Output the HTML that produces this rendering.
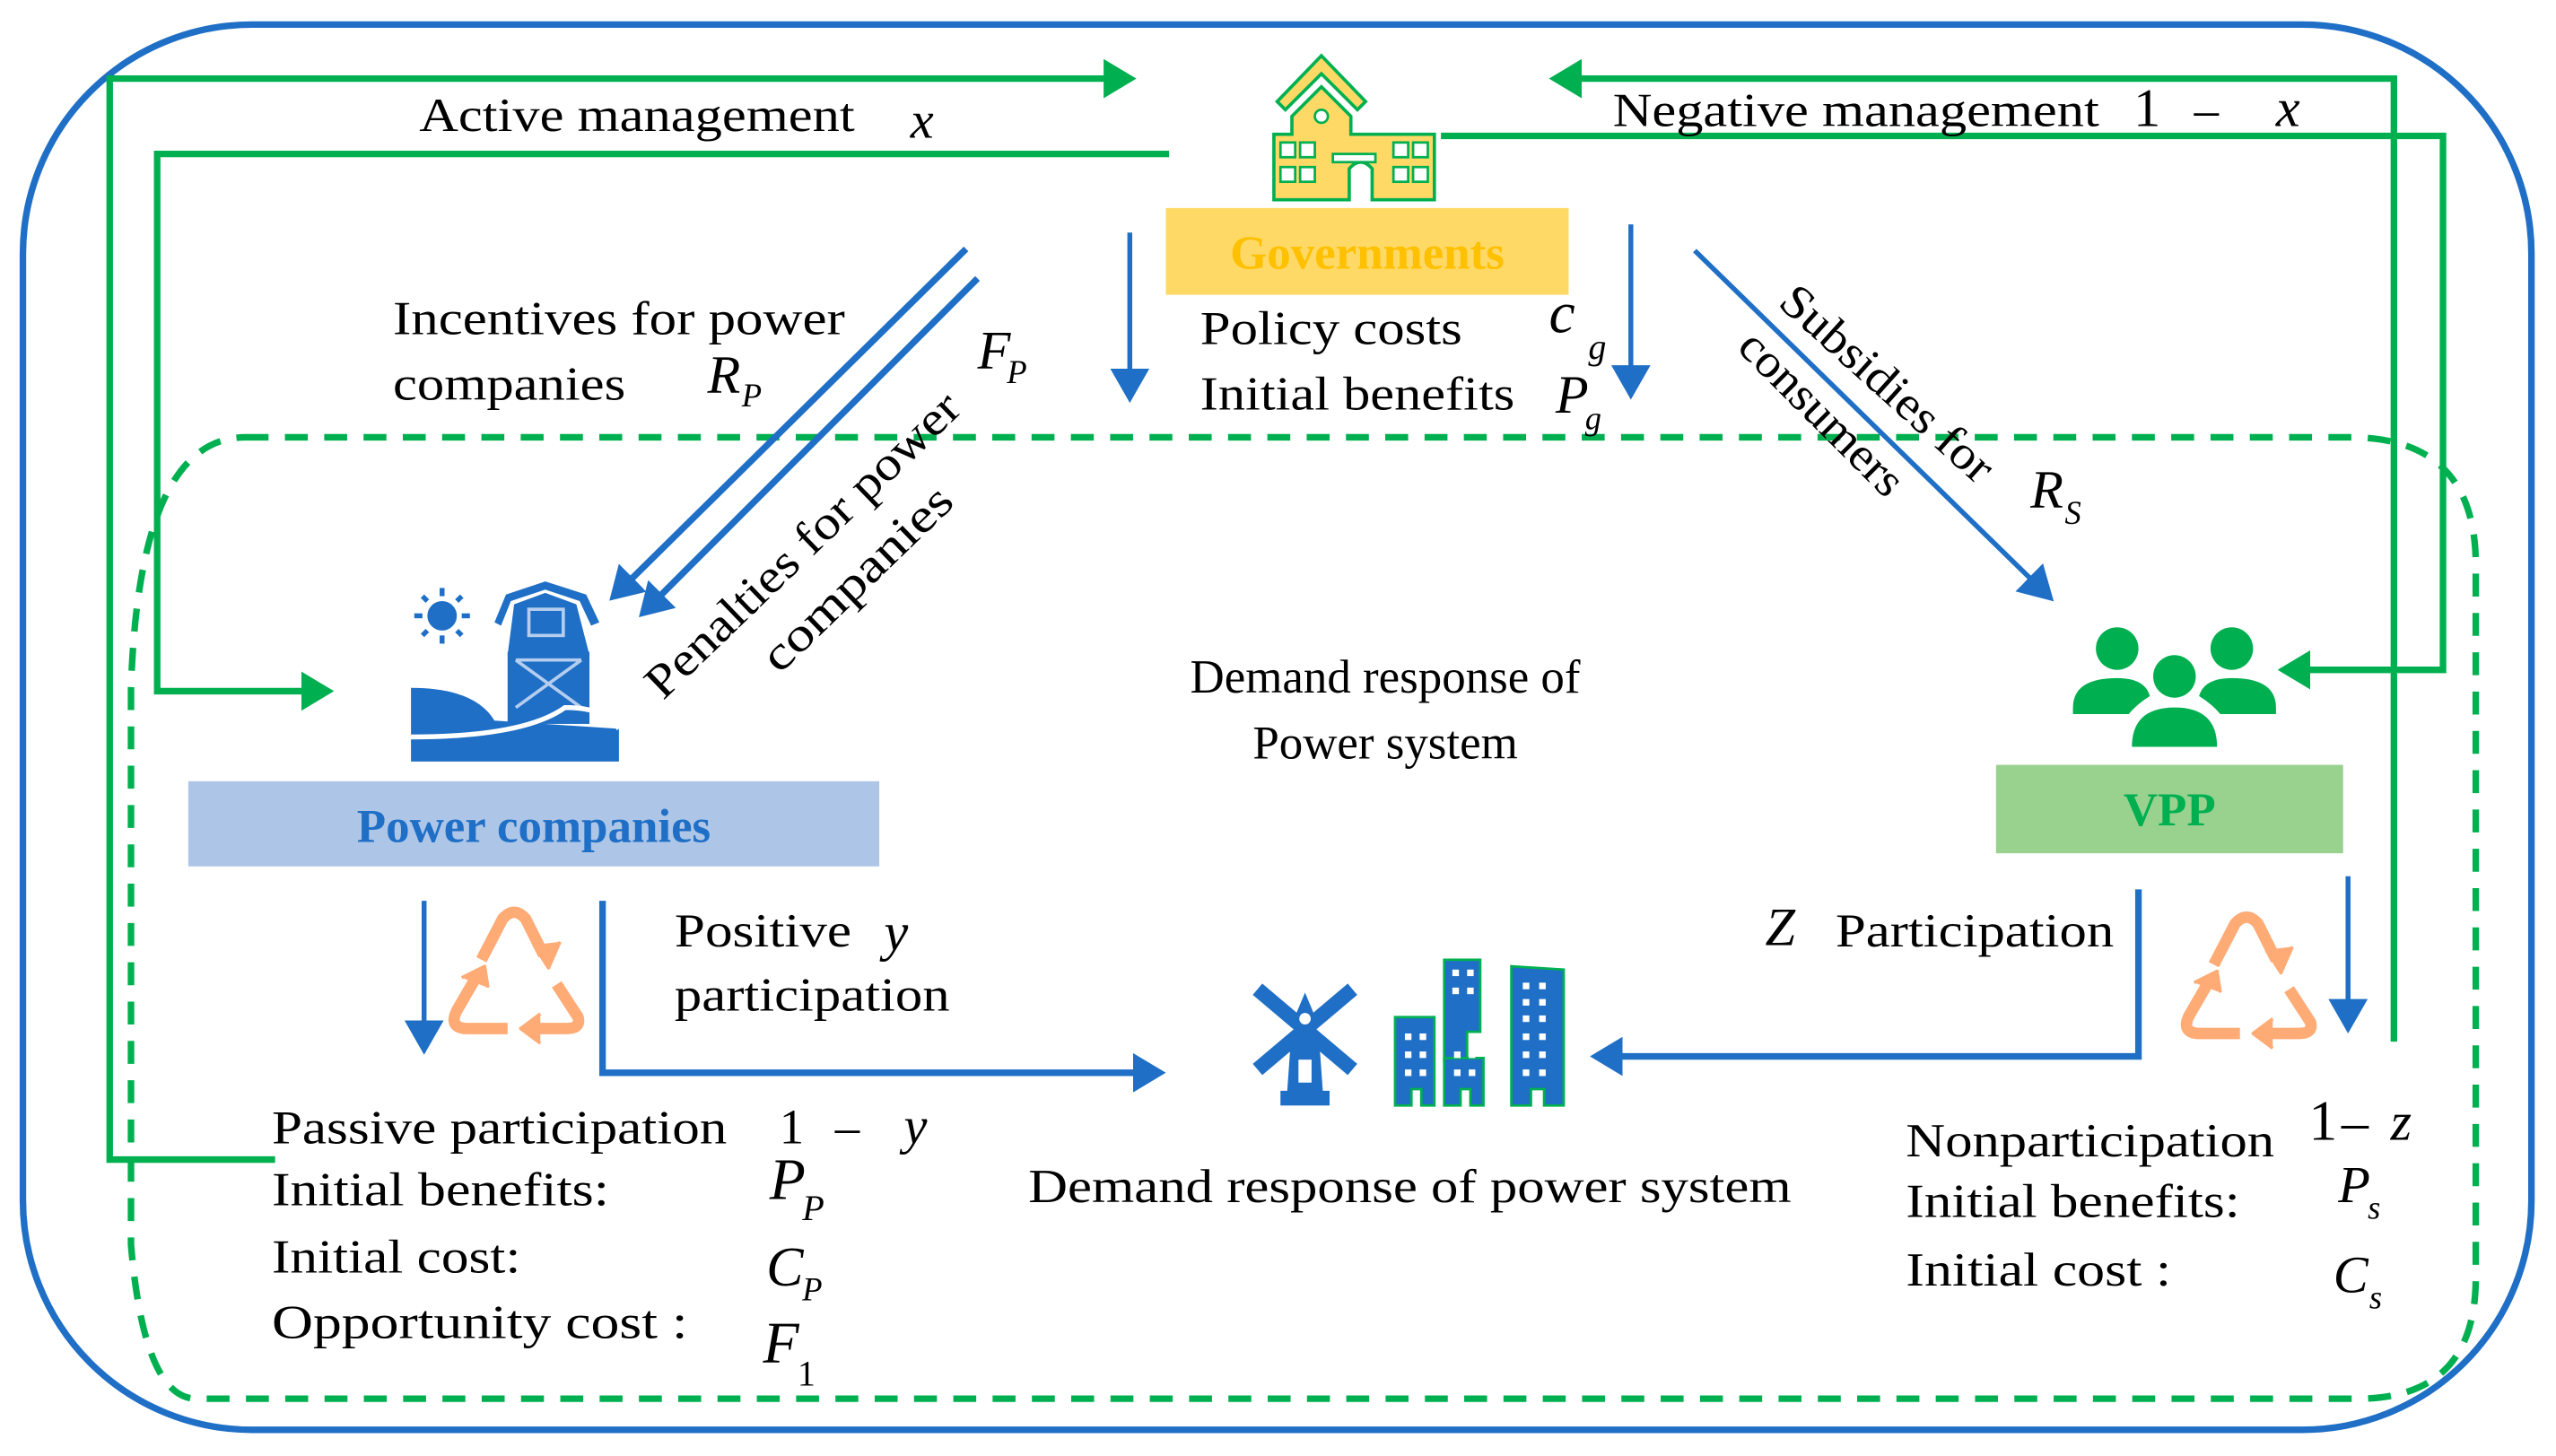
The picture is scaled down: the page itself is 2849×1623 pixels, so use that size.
<!DOCTYPE html>
<html><head><meta charset="utf-8"><style>
html,body{margin:0;padding:0;background:#fff;}
svg{display:block;}
text{font-family:"Liberation Serif",serif;fill:#000;}
.i{font-style:italic;}
</style></head><body>
<svg width="2849" height="1623" viewBox="0 0 1561 889" preserveAspectRatio="none" xmlns="http://www.w3.org/2000/svg">
<defs>
<marker id="ag" markerWidth="6" markerHeight="6" refX="4" refY="3" orient="auto" markerUnits="strokeWidth"><path d="M0,0 L5,3 L0,6 Z" fill="#00b050"/></marker>
<marker id="ab" markerWidth="6" markerHeight="6" refX="4" refY="3" orient="auto" markerUnits="strokeWidth"><path d="M0,0 L5,3 L0,6 Z" fill="#1f6fc6"/></marker>
<marker id="ab2" markerWidth="8" markerHeight="8" refX="5" refY="4" orient="auto" markerUnits="strokeWidth"><path d="M0,0 L7,4 L0,8 Z" fill="#1f6fc6"/></marker>
</defs>
<!-- outer blue frame -->
<rect x="14" y="15" width="1532" height="858" rx="140" ry="140" fill="none" stroke="#1f6fc6" stroke-width="4"/>
<!-- green dashed inner frame -->
<path d="M150,267 L1435,267 Q1512,267 1512,345 L1512,780 Q1512,854 1440,854 L120,854 Q88,854 80,760 L80,420 Q85,267 150,267 Z" fill="none" stroke="#00b050" stroke-width="4" stroke-dasharray="14,10"/>

<!-- green management lines -->
<polyline points="168,708 67,708 67,48 690,48" fill="none" stroke="#00b050" stroke-width="4" marker-end="url(#ag)"/>
<polyline points="714,94 96,94 96,422 200,422" fill="none" stroke="#00b050" stroke-width="4" marker-end="url(#ag)"/>
<polyline points="880,83 1492,83 1492,409 1395,409" fill="none" stroke="#00b050" stroke-width="4" marker-end="url(#ag)"/>
<polyline points="1462,636 1462,48 950,48" fill="none" stroke="#00b050" stroke-width="4" marker-end="url(#ag)"/>

<!-- blue arrows -->
<line x1="690" y1="142" x2="690" y2="240" stroke="#1f6fc6" stroke-width="3" marker-end="url(#ab2)"/>
<line x1="996" y1="137" x2="996" y2="238" stroke="#1f6fc6" stroke-width="3" marker-end="url(#ab2)"/>
<line x1="590" y1="152" x2="375" y2="364" stroke="#1f6fc6" stroke-width="4" marker-end="url(#ab)"/>
<line x1="597" y1="170" x2="393" y2="374" stroke="#1f6fc6" stroke-width="4" marker-end="url(#ab)"/>
<line x1="1035" y1="153" x2="1250" y2="363" stroke="#1f6fc6" stroke-width="3" marker-end="url(#ab2)"/>
<line x1="259" y1="550" x2="259" y2="638" stroke="#1f6fc6" stroke-width="3" marker-end="url(#ab2)"/>
<polyline points="368,550 368,655 708,655" fill="none" stroke="#1f6fc6" stroke-width="4" marker-end="url(#ab)"/>
<polyline points="1306,543 1306,645 975,645" fill="none" stroke="#1f6fc6" stroke-width="4" marker-end="url(#ab)"/>
<line x1="1434" y1="535" x2="1434" y2="625" stroke="#1f6fc6" stroke-width="3" marker-end="url(#ab2)"/>

<!-- government building -->
<g stroke="#00b050" stroke-width="2" fill="#ffd966">
<path d="M780,62 L807,34 L834,62 L829,67 L807,45 L785,67 Z"/>
<path d="M789,71 L807,53 L825,71 L825,82 L876,82 L876,122 L838,122 L838,103 Q831,95 824,103 L824,122 L778,122 L778,82 L789,82 Z" transform="translate(20,0) translate(-20,0)"/>
</g>
<g transform="translate(0,0)">
<circle cx="807" cy="71" r="4" fill="#fff" stroke="#00b050" stroke-width="1.5"/>
<g fill="#fff" stroke="#00b050" stroke-width="1.5">
<rect x="782" y="87" width="9" height="9"/><rect x="794" y="87" width="9" height="9"/>
<rect x="851" y="87" width="9" height="9"/><rect x="863" y="87" width="9" height="9"/>
<rect x="782" y="102" width="9" height="9"/><rect x="794" y="102" width="9" height="9"/>
<rect x="851" y="102" width="9" height="9"/><rect x="863" y="102" width="9" height="9"/>
<rect x="814" y="94" width="26" height="5"/>
</g>
</g>
<rect x="712" y="127" width="246" height="53" fill="#ffd966"/>
<text x="835" y="164" text-anchor="middle" font-size="29" font-weight="bold" fill="#ffc000" style="fill:#ffc000">Governments</text>

<!-- farm icon -->
<g fill="#1f6fc6">
<circle cx="270" cy="376" r="9"/>
<g stroke="#1f6fc6" stroke-width="3">
<line x1="270" y1="359" x2="270" y2="364"/><line x1="270" y1="388" x2="270" y2="393"/>
<line x1="253" y1="376" x2="258" y2="376"/><line x1="282" y1="376" x2="287" y2="376"/>
<line x1="258" y1="364" x2="261" y2="367"/><line x1="279" y1="385" x2="282" y2="388"/>
<line x1="282" y1="364" x2="279" y2="367"/><line x1="261" y1="385" x2="258" y2="388"/>
</g>
<path d="M302,380 L309,363 L333,355 L358,363 L366,380 L361,382 L354,367 L333,360 L312,367 L306,382 Z"/>
<path d="M314,369 L333,362 L352,369 L360,400 L310,400 Z"/>
<rect x="310" y="398" width="50" height="44"/>
<path d="M251,420 Q290,420 302,440 L378,445 L378,465 L251,465 Z"/>
</g>
<rect x="323" y="372" width="21" height="16" fill="none" stroke="#b5cdee" stroke-width="2"/>
<path d="M315,403 L355,403 M315,403 L355,432 M355,403 L315,432" stroke="#b5cdee" stroke-width="2"/>
<path d="M250,450 Q320,450 345,432 Q370,432 378,445" fill="none" stroke="#fff" stroke-width="3"/>

<rect x="115" y="477" width="422" height="52" fill="#adc6e8"/>
<text x="326" y="514" text-anchor="middle" font-size="29" font-weight="bold" style="fill:#1f6fc6">Power companies</text>

<!-- people icon -->
<g fill="#00b050">
<circle cx="1293" cy="396" r="13"/><circle cx="1363" cy="396" r="13"/><circle cx="1328" cy="413" r="13"/>
<path d="M1266,432 Q1266,414 1293,414 Q1310,414 1313,425 Q1305,430 1300,436 L1266,436 Z"/>
<path d="M1390,432 Q1390,414 1363,414 Q1346,414 1343,425 Q1351,430 1356,436 L1390,436 Z"/>
<path d="M1302,456 Q1302,432 1328,432 Q1354,432 1354,456 Z"/>
</g>
<rect x="1219" y="467" width="212" height="54" fill="#99d18f"/>
<text x="1325" y="504" text-anchor="middle" font-size="29" font-weight="bold" style="fill:#00b050">VPP</text>

<!-- recycle icons -->
<g id="rc" transform="translate(272,553)" fill="none" stroke="#ffab76" stroke-width="7" stroke-linejoin="round">
<path d="M22,33 L35,8 Q42,0 49,8 L60,30"/>
<path d="M54,24 L63,38 L70,22" fill="#ffab76" stroke-width="2"/>
<path d="M68,48 L81,68 Q83,75 74,75 L54,75"/>
<path d="M58,66 L46,75 L58,84" fill="#ffab76" stroke-width="2"/>
<path d="M38,75 L12,75 Q2,74 7,64 L18,45"/>
<path d="M10,44 L24,37 L26,50" fill="#ffab76" stroke-width="2"/>
</g>
<g transform="translate(1330,556)" fill="none" stroke="#ffab76" stroke-width="7" stroke-linejoin="round">
<path d="M22,33 L35,8 Q42,0 49,8 L60,30"/>
<path d="M54,24 L63,38 L70,22" fill="#ffab76" stroke-width="2"/>
<path d="M68,48 L81,68 Q83,75 74,75 L54,75"/>
<path d="M58,66 L46,75 L58,84" fill="#ffab76" stroke-width="2"/>
<path d="M38,75 L12,75 Q2,74 7,64 L18,45"/>
<path d="M10,44 L24,37 L26,50" fill="#ffab76" stroke-width="2"/>
</g>

<!-- windmill -->
<g fill="#1f6fc6">
<path d="M788,640 L792,618 L797,606 L802,618 L806,640 L808,668 L786,668 Z"/>
<rect x="782" y="666" width="30" height="9"/>
<g stroke="#1f6fc6" stroke-width="9" stroke-linecap="butt">
<line x1="768" y1="604" x2="826" y2="653"/><line x1="826" y1="604" x2="768" y2="653"/>
</g>
<circle cx="797" cy="622" r="3.5" fill="#fff"/>
<rect x="793" y="647" width="8" height="14" fill="#fff"/>
</g>
<!-- buildings -->
<g fill="#1f6fc6" stroke="#00b050" stroke-width="1.5">
<path d="M882,586 L904,586 L904,630 L896,630 L896,648 L882,648 Z"/>
<path d="M852,621 L876,621 L876,675 L868,675 L868,665 L862,665 L862,675 L852,675 Z"/>
<path d="M882,646 L906,646 L906,675 L898,675 L898,665 L892,665 L892,675 L882,675 Z"/>
<path d="M923,590 L955,592 L955,675 L943,675 L943,665 L935,665 L935,675 L923,675 Z"/>
</g>
<g fill="#fff">
<rect x="887" y="592" width="4" height="4"/><rect x="896" y="592" width="4" height="4"/><rect x="887" y="603" width="4" height="4"/><rect x="896" y="603" width="4" height="4"/>
<rect x="858" y="631" width="4" height="4"/><rect x="867" y="631" width="4" height="4"/><rect x="858" y="642" width="4" height="4"/><rect x="867" y="642" width="4" height="4"/><rect x="858" y="653" width="4" height="4"/><rect x="867" y="653" width="4" height="4"/>
<rect x="888" y="653" width="4" height="4"/><rect x="897" y="653" width="4" height="4"/><rect x="888" y="642" width="4" height="4"/><rect x="897" y="642" width="4" height="4"/>
<rect x="930" y="600" width="4" height="4"/><rect x="940" y="600" width="4" height="4"/><rect x="930" y="610" width="4" height="4"/><rect x="940" y="610" width="4" height="4"/><rect x="930" y="620" width="4" height="4"/><rect x="940" y="620" width="4" height="4"/><rect x="930" y="631" width="4" height="4"/><rect x="940" y="631" width="4" height="4"/><rect x="930" y="642" width="4" height="4"/><rect x="940" y="642" width="4" height="4"/><rect x="930" y="653" width="4" height="4"/><rect x="940" y="653" width="4" height="4"/>
</g>

<!-- texts -->
<text x="256" y="80" font-size="29" textLength="266" lengthAdjust="spacingAndGlyphs">Active management</text>
<text x="556" y="84" font-size="32" class="i">x</text>
<text x="985" y="77" font-size="29" textLength="297" lengthAdjust="spacingAndGlyphs">Negative management</text>
<text x="1303" y="77" font-size="33">1</text>
<text x="1340" y="77" font-size="30">–</text>
<text x="1390" y="77" font-size="33" class="i">x</text>

<text x="240" y="204" font-size="29" textLength="276" lengthAdjust="spacingAndGlyphs">Incentives for power</text>
<text x="240" y="244" font-size="29" textLength="142" lengthAdjust="spacingAndGlyphs">companies</text>
<text x="432" y="240" font-size="33" class="i">R</text><text x="453" y="248" font-size="20" class="i">P</text>
<text x="597" y="225" font-size="33" class="i">F</text><text x="615" y="234" font-size="20" class="i">P</text>
<text transform="translate(405,428) rotate(-44)" font-size="29" textLength="255" lengthAdjust="spacingAndGlyphs">Penalties for power</text>
<text transform="translate(476,412) rotate(-44)" font-size="29" textLength="150" lengthAdjust="spacingAndGlyphs">companies</text>

<text x="733" y="210" font-size="29" textLength="160" lengthAdjust="spacingAndGlyphs">Policy costs</text>
<text x="733" y="250" font-size="29" textLength="192" lengthAdjust="spacingAndGlyphs">Initial benefits</text>
<text x="946" y="203" font-size="36" class="i">c</text><text x="970" y="219" font-size="22" class="i">g</text>
<text x="950" y="252" font-size="33" class="i">P</text><text x="968" y="262" font-size="20" class="i">g</text>

<text transform="translate(1085,186) rotate(42)" font-size="29" textLength="165" lengthAdjust="spacingAndGlyphs">Subsidies for</text>
<text transform="translate(1060,213) rotate(45)" font-size="29" textLength="130" lengthAdjust="spacingAndGlyphs">consumers</text>
<text x="1240" y="310" font-size="33" class="i">R</text><text x="1261" y="320" font-size="20" class="i">S</text>

<text x="846" y="423" text-anchor="middle" font-size="29">Demand response of</text>
<text x="846" y="463" text-anchor="middle" font-size="29">Power system</text>

<text x="412" y="578" font-size="29" textLength="108" lengthAdjust="spacingAndGlyphs">Positive</text>
<text x="540" y="580" font-size="33" class="i">y</text>
<text x="412" y="617" font-size="29" textLength="168" lengthAdjust="spacingAndGlyphs">participation</text>

<text x="1078" y="577" font-size="33" class="i">Z</text>
<text x="1121" y="578" font-size="29" textLength="170" lengthAdjust="spacingAndGlyphs">Participation</text>

<text x="166" y="698" font-size="29" textLength="278" lengthAdjust="spacingAndGlyphs">Passive participation</text>
<text x="476" y="698" font-size="30">1</text><text x="510" y="698" font-size="30">–</text><text x="552" y="698" font-size="32" class="i">y</text>
<text x="166" y="736" font-size="29" textLength="206" lengthAdjust="spacingAndGlyphs">Initial benefits:</text>
<text x="470" y="732" font-size="36" class="i">P</text><text x="490" y="745" font-size="22" class="i">P</text>
<text x="166" y="777" font-size="29" textLength="152" lengthAdjust="spacingAndGlyphs">Initial cost:</text>
<text x="468" y="785" font-size="34" class="i">C</text><text x="490" y="794" font-size="20" class="i">P</text>
<text x="166" y="817" font-size="29" textLength="254" lengthAdjust="spacingAndGlyphs">Opportunity  cost :</text>
<text x="466" y="832" font-size="36" class="i">F</text><text x="487" y="846" font-size="22">1</text>

<text x="628" y="734" font-size="29" textLength="466" lengthAdjust="spacingAndGlyphs">Demand response of power system</text>

<text x="1164" y="706" font-size="29" textLength="225" lengthAdjust="spacingAndGlyphs">Nonparticipation</text>
<text x="1410" y="696" font-size="35">1</text><text x="1430" y="696" font-size="33">–</text><text x="1460" y="696" font-size="33" class="i">z</text>
<text x="1164" y="743" font-size="29" textLength="204" lengthAdjust="spacingAndGlyphs">Initial benefits:</text>
<text x="1428" y="734" font-size="32" class="i">P</text><text x="1446" y="744" font-size="20" class="i">s</text>
<text x="1164" y="785" font-size="29" textLength="162" lengthAdjust="spacingAndGlyphs">Initial cost :</text>
<text x="1425" y="789" font-size="32" class="i">C</text><text x="1447" y="799" font-size="20" class="i">s</text>
</svg>
</body></html>
